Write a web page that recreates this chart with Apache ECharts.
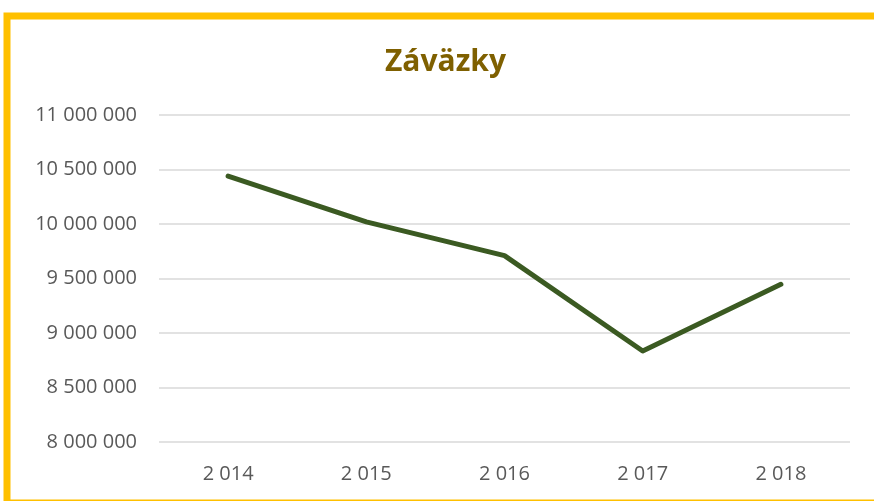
<!DOCTYPE html>
<html>
<head>
<meta charset="utf-8">
<script src="https://cdn.jsdelivr.net/npm/echarts@6/dist/echarts.min.js"></script>
<style>
html,body{margin:0;padding:0;background:#fff;}
#chart{width:874px;height:501px;}
</style>
</head>
<body>
<div id="chart"></div>
<script>
const categories = ["2 014", "2 015", "2 016", "2 017", "2 018"];
const zavazky = [10440000, 10020000, 9710000, 8835000, 9447000];
const yMin = 8000000, yMax = 11000000, yStep = 500000;

function fmt(v){
  return String(Math.round(v)).replace(/\B(?=(\d{3})+(?!\d))/g, " ");
}

const chart = echarts.init(document.getElementById('chart'), null, {renderer:'canvas'});
chart.setOption({
  animation:false,
  backgroundColor:'#ffffff',
  title:{
    text:'Záväzky',
    left:380,
    top:42,
    textStyle:{fontFamily:'Open Sans', fontWeight:'bold', fontSize:30, color:'#7f6000'}
  },
  graphic:[{
    type:'rect', silent:true, z:100,
    shape:{x:7, y:16, width:920, height:487},
    style:{fill:'none', stroke:'#ffc000', lineWidth:7}
  }],
  grid:{left:159, right:24, top:115, bottom:59},
  xAxis:{
    type:'category',
    data:categories,
    boundaryGap:true,
    axisLine:{show:false},
    axisTick:{show:false},
    axisLabel:{fontFamily:'Open Sans', fontSize:20, color:'#595959', margin:22}
  },
  yAxis:{
    type:'value',
    min:yMin, max:yMax, interval:yStep,
    axisLine:{show:false},
    axisTick:{show:false},
    splitLine:{lineStyle:{color:'#d9d9d9', width:1.5}},
    axisLabel:{fontFamily:'Open Sans', fontSize:20, color:'#595959', margin:22, formatter:fmt}
  },
  series:[{
    type:'line',
    data:zavazky,
    symbol:'none',
    lineStyle:{color:'#3b5a22', width:5, cap:'round', join:'round'}
  }]
});
</script>
</body>
</html>
